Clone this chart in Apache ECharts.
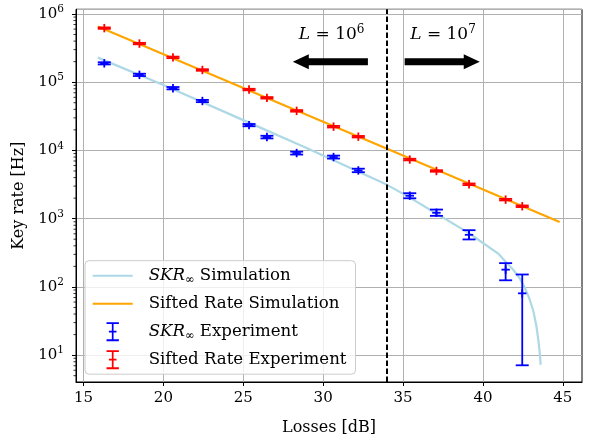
<!DOCTYPE html>
<html>
<head>
<meta charset="utf-8">
<script src="https://cdn.jsdelivr.net/npm/echarts@6/dist/echarts.min.js"></script>
<style>html,body{margin:0;padding:0;background:#fff}#c{width:596px;height:441px}</style>
</head>
<body>
<div id="c"></div>
<script>
// ---- data ----
const xSkrSim = [15.9, 20, 25, 29, 34, 35.4, 37.1, 39.1, 40, 41.0, 41.46, 41.9, 42.29, 42.6, 42.92, 43.15, 43.34, 43.48, 43.57, 43.61];
const ySkrSim = [2.29e5, 9.1e4, 2.78e4, 1.08e4, 3.13e3, 2.05e3, 1.18e3, 620, 440, 302, 228, 178, 135, 100, 66, 44.7, 27.2, 15.8, 10, 7.2];
const xSifSim = [15.9, 25, 34, 44.8];
const ySifSim = [6.56e5, 8.2e4, 1.06e4, 893];
const xExp = [16.3, 18.5, 20.6, 22.44, 25.36, 26.48, 28.34, 30.65, 32.2, 35.42, 37.09, 39.13, 41.42, 42.46];
const ySkrExp = [1.89e5, 1.28e5, 8.17e4, 5.3e4, 2.35e4, 1.57e4, 9.16e3, 8.0e3, 5.09e3, 2.17e3, 1.22e3, 580, 179, 80.5];
const skrLow  = [1.82e5, 1.23e5, 7.85e4, 5.1e4, 2.26e4, 1.5e4, 8.7e3, 7.6e3, 4.8e3, 1.99e3, 1.10e3, 496, 125, 7.1];
const skrHigh = [1.96e5, 1.33e5, 8.5e4, 5.5e4, 2.44e4, 1.64e4, 9.6e3, 8.4e3, 5.4e3, 2.36e3, 1.36e3, 678, 223, 152];
const ySifExp = [6.2e5, 3.68e5, 2.31e5, 1.51e5, 7.8e4, 5.9e4, 3.8e4, 2.23e4, 1.59e4, 7.35e3, 5.0e3, 3.19e3, 1.90e3, 1.52e3];
const sifLow  = [6.05e5, 3.59e5, 2.25e5, 1.47e5, 7.6e4, 5.75e4, 3.7e4, 2.17e4, 1.55e4, 7.15e3, 4.87e3, 3.1e3, 1.85e3, 1.48e3];
const sifHigh = [6.35e5, 3.77e5, 2.37e5, 1.55e5, 8.0e4, 6.05e4, 3.9e4, 2.29e4, 1.63e4, 7.55e3, 5.13e3, 3.28e3, 1.95e3, 1.56e3];
const xTicks = [15, 20, 25, 30, 35, 40, 45];
const yMinor = [5,6,7,8,9, 20,30,40,50,60,70,80,90, 200,300,400,500,600,700,800,900,
  2e3,3e3,4e3,5e3,6e3,7e3,8e3,9e3, 2e4,3e4,4e4,5e4,6e4,7e4,8e4,9e4, 2e5,3e5,4e5,5e5,6e5,7e5,8e5,9e5];
const splitX = 34;
// arrows: [start x, tip x, y]
const arrows = [[32.8, 28.1, 2e5], [35.1, 39.8, 2e5]];
// labels: [x, y, exponent of L]
const lLabels = [[30.53, 5.0e5, 6], [37.5, 5.0e5, 7]];

const X_MIN = 14.53, X_MAX = 46.2, Y_MIN = 4.04, Y_MAX = 1.17e6;
const FONT = 'DejaVu Serif';

function zip2(a, b) { return a.map((v, i) => [v, b[i]]); }
function zip4(a, b, c, d) { return a.map((v, i) => [v, b[i], c[i], d[i]]); }

function errRender(color) {
  return function (params, api) {
    const x = api.value(0), y = api.value(1), lo = api.value(2), hi = api.value(3);
    const p = api.coord([x, y]), pl = api.coord([x, lo]), ph = api.coord([x, hi]);
    const st = { stroke: color, lineWidth: 1.8, fill: null };
    const cap = 6.5, m = 4.2;
    return { type: 'group', children: [
      { type: 'line', shape: { x1: pl[0], y1: pl[1], x2: ph[0], y2: ph[1] }, style: st },
      { type: 'line', shape: { x1: pl[0]-cap, y1: pl[1], x2: pl[0]+cap, y2: pl[1] }, style: st },
      { type: 'line', shape: { x1: ph[0]-cap, y1: ph[1], x2: ph[0]+cap, y2: ph[1] }, style: st },
      { type: 'line', shape: { x1: p[0]-m, y1: p[1], x2: p[0]+m, y2: p[1] }, style: st },
      { type: 'line', shape: { x1: p[0], y1: p[1]-m, x2: p[0], y2: p[1]+m }, style: st }
    ]};
  };
}

const linePath = 'path://M0,0H40V2H0Z';
const ebPath = 'path://M0,0H13V2H0Z M5.6,0H7.4V20H5.6Z M0,18H13V20H0Z M2.5,9.1H10.5V10.9H2.5Z';

const names = {
  skrSim: '{i|SKR}{u|∞} Simulation',
  sifSim: 'Sifted Rate Simulation',
  skrExp: '{i|SKR}{u|∞} Experiment',
  sifExp: 'Sifted Rate Experiment'
};

const chart = echarts.init(document.getElementById('c'), null, { renderer: 'canvas' });
chart.setOption({
  animation: false,
  backgroundColor: '#fff',
  textStyle: { fontFamily: FONT },
  grid: { left: 76, right: 14, top: 9.3, bottom: 53.7, show: true, borderColor: '#000', borderWidth: 1, backgroundColor: 'transparent' },
  xAxis: {
    type: 'value', min: X_MIN, max: X_MAX,
    name: 'Losses [dB]', nameLocation: 'middle', nameGap: 38,
    nameTextStyle: { fontFamily: FONT, fontSize: 16, color: '#000' },
    axisLine: { show: true, onZero: false, lineStyle: { color: '#000', width: 1 } },
    axisTick: { show: true, length: 4, lineStyle: { color: '#000' }, customValues: xTicks },
    axisLabel: { fontFamily: FONT, fontSize: 15, color: '#000', margin: 9, customValues: xTicks,
      formatter: v => String(v) },
    splitLine: { show: true, lineStyle: { color: '#b0b0b0', width: 1 } }
  },
  yAxis: {
    type: 'log', logBase: 10, min: Y_MIN, max: Y_MAX,
    name: 'Key rate [Hz]', nameLocation: 'middle', nameGap: 39,
    nameTextStyle: { fontFamily: FONT, fontSize: 16, color: '#000' },
    axisLine: { show: true, lineStyle: { color: '#000', width: 1 } },
    axisTick: { show: true, length: 4, lineStyle: { color: '#000' } },
    axisLabel: {
      showMinLabel: false, showMaxLabel: false, margin: 12,
      formatter: v => {
        const e = Math.log10(v), r = Math.round(e);
        if (Math.abs(e - r) > 1e-6) return '';
        return '{b|10}{s|' + r + '}';
      },
      rich: {
        b: { fontFamily: FONT, fontSize: 15, lineHeight: 20, color: '#000' },
        s: { fontFamily: FONT, fontSize: 10.5, lineHeight: 10, verticalAlign: 'top', color: '#000' }
      }
    },
    splitLine: { show: true, lineStyle: { color: '#b0b0b0', width: 1 } }
  },
  legend: {
    orient: 'vertical', left: 85, top: 260.7,
    padding: [5, 9, 4.5, 7.7], itemGap: 8, itemWidth: 40, itemHeight: 19,
    backgroundColor: 'rgba(255,255,255,0.8)', borderColor: '#cccccc', borderWidth: 1, borderRadius: 4,
    itemStyle: { borderWidth: 0 },
    data: [
      { name: 'skrSim', icon: linePath },
      { name: 'sifSim', icon: linePath },
      { name: 'skrExp', icon: ebPath },
      { name: 'sifExp', icon: ebPath }
    ],
    formatter: n => names[n],
    textStyle: {
      fontFamily: FONT, fontSize: 16.6, lineHeight: 20, color: '#000', padding: [0, 0, 0, 11],
      rich: {
        i: { fontFamily: FONT, fontSize: 16.6, lineHeight: 20, fontStyle: 'italic', color: '#000' },
        u: { fontFamily: FONT, fontSize: 11.5, lineHeight: 10, verticalAlign: 'bottom', color: '#000' }
      }
    }
  },
  series: [
    { name: 'skrSim', type: 'line', data: zip2(xSkrSim, ySkrSim), showSymbol: false, symbol: 'none',
      smooth: false,
      lineStyle: { color: '#add8e6', width: 2.2 }, itemStyle: { color: '#add8e6' }, z: 2 },
    { name: 'sifSim', type: 'line', data: zip2(xSifSim, ySifSim), showSymbol: false, symbol: 'none',
      lineStyle: { color: '#ffa500', width: 2.2 }, itemStyle: { color: '#ffa500' }, z: 2,
      markLine: { silent: true, symbol: ['none', 'none'], label: { show: false },
        lineStyle: { color: '#000', width: 2, type: [5.5, 2.5] },
        data: [{ xAxis: splitX }] } },
    { name: 'skrExp', type: 'custom', data: zip4(xExp, ySkrExp, skrLow, skrHigh),
      encode: { x: 0, y: [1, 2, 3] }, renderItem: errRender('#0000ff'), itemStyle: { color: '#0000ff' }, z: 3 },
    { name: 'sifExp', type: 'custom', data: zip4(xExp, ySifExp, sifLow, sifHigh),
      encode: { x: 0, y: [1, 2, 3] }, renderItem: errRender('#ff0000'), itemStyle: { color: '#ff0000' }, z: 3 },
    { name: 'minorTicks', type: 'custom', silent: true, data: yMinor.map(v => [X_MIN, v]),
      encode: { x: 0, y: 1 }, clip: false,
      renderItem: (params, api) => {
        const p = api.coord([api.value(0), api.value(1)]);
        return { type: 'line', shape: { x1: p[0] - 2.5, y1: p[1], x2: p[0], y2: p[1] }, style: { stroke: '#000', lineWidth: 0.8 } };
      }, z: 4 },
    { name: 'arrows', type: 'custom', silent: true, data: arrows, encode: { x: [0, 1], y: 2 },
      renderItem: (params, api) => {
        const y = api.value(2);
        const a = api.coord([api.value(0), y]), b = api.coord([api.value(1), y]);
        const d = b[0] > a[0] ? 1 : -1, hl = 16, sh = 3.5, hh = 7.5, cy = a[1];
        const hx = b[0] - d * hl;
        return { type: 'polygon', shape: { points: [
          [a[0], cy - sh], [hx, cy - sh], [hx, cy - hh], [b[0], cy], [hx, cy + hh], [hx, cy + sh], [a[0], cy + sh]
        ] }, style: { fill: '#000' } };
      }, z: 5 },
    { name: 'labels', type: 'custom', silent: true, data: lLabels, encode: { x: 0, y: 1 },
      renderItem: (params, api) => {
        const p = api.coord([api.value(0), api.value(1)]);
        return { type: 'text', x: p[0], y: p[1], style: {
          text: '{i|L} = 10{s|' + api.value(2) + '}', align: 'center', verticalAlign: 'middle',
          font: '17px ' + FONT, fill: '#000',
          rich: {
            i: { fontFamily: FONT, fontSize: 17, lineHeight: 22, fontStyle: 'italic', fill: '#000' },
            s: { fontFamily: FONT, fontSize: 12, lineHeight: 11, verticalAlign: 'top', fill: '#000' }
          }
        } };
      }, z: 5 }
  ]
});
</script>
</body>
</html>
